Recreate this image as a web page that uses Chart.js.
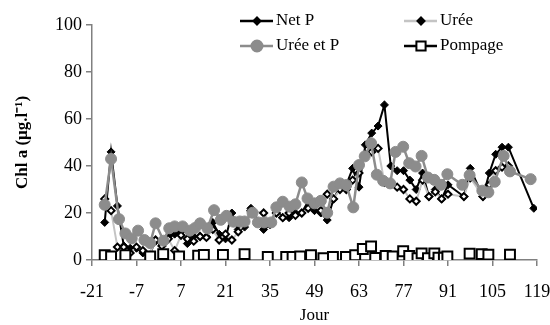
<!DOCTYPE html>
<html>
<head>
<meta charset="utf-8">
<script src="https://cdn.jsdelivr.net/npm/chart.js@4/dist/chart.umd.min.js"></script>
<style>
  html, body { margin: 0; padding: 0; background: #fff; }
  #wrap { width: 550px; height: 325px; position: relative; }
</style>
</head>
<body>
<div id="wrap"><canvas id="chart"></canvas></div>
<script>
// Sampling days and chlorophyll a values per treatment
const netPDays = [-17, -15, -13, -11, -9, -7, -5, -3, -1, 1, 3, 5, 7, 9, 11, 13, 15, 17, 19, 21,
    23, 25, 27, 29, 33, 35, 37, 39, 41, 43, 45, 47, 49, 51, 53, 55, 57, 59, 61, 63,
    65, 67, 69, 71, 73, 75, 77, 79, 81, 83, 85, 87, 89, 91, 96, 98, 102, 104, 106, 108, 110, 118];
const netPValues = [16, 46, 23, 6, 5, 5, 3, 2, 8, 7, 10, 11, 12, 7, 10, 10, 10, 16, 11, 9,
    20, 13, 14, 22, 13, 15, 21, 18, 18, 20, 20, 25, 21, 20, 17, 26, 31, 32, 39, 31,
    49, 54, 57, 66, 40, 38, 38, 34, 30, 37, 27, 30, 26, 32, 27, 39, 27, 37, 45, 48, 48, 22];

const ureeDays = [-17, -15, -13, -11, -9, -7, -5, -3, -1, 1, 3, 5, 7, 9, 11, 13, 15, 17, 19, 21,
    23, 25, 27, 29, 33, 35, 37, 39, 41, 43, 45, 47, 49, 51, 53, 55, 57, 59, 61, 63,
    65, 67, 69, 71, 73, 75, 77, 79, 81, 83, 85, 87, 89, 91, 96, 98, 102, 104, 106, 108, 110];
const ureeValues = [26, 21, 5.5, 5.5, 3, 5.5, 4, 2, 8.5, 6, 9, 4, 10.5, 9, 8, 10, 9.6, 13, 8.5, 11,
    8.5, 12, 16, 21, 20, 16, 20, 18, 20, 19, 20, 22, 23, 21, 28, 26, 30, 30, 34, 37,
    45, 46, 47.5, 33, 33, 31, 30, 26, 25, 34, 27, 29, 26, 28, 27, 35, 27, 32, 38, 39.5, 40];

const ureePDays = [-17, -15, -12.5, -10.5, -8.5, -6.5, -4.5, -2.7, -1, 1.5, 3.3, 5, 7.5, 9.8, 11.4, 13, 15.3, 17.4, 19.5, 21.3,
    23.5, 25.5, 27, 29.5, 31.2, 33.2, 35.4, 37, 39, 41.2, 43, 45, 46.8, 49, 51, 53, 55, 57, 59, 61.2,
    63, 64.8, 66.8, 68.6, 70.6, 72.8, 74.5, 76.9, 78.8, 80.8, 82.7, 84.7, 86.7, 88.8, 90.8, 95.5, 97.8, 101.8, 103.7, 105.7,
    108.5, 110.5, 117];
const ureePValues = [23.5, 43, 17.4, 11.3, 9.2, 12.5, 8.5, 7.2, 15.6, 8.2, 13.5, 14.3, 14.3, 12.5, 13.6, 15.6, 13.5, 21.2, 17.1, 18.8,
    16.3, 16.4, 16.4, 20.1, 16, 16, 16, 22.4, 24.8, 22.7, 23.7, 33, 26.2, 24.1, 25.2, 20.1, 31.2, 32.6, 31.9, 22.4,
    40.4, 44.1, 49.7, 36.3, 33.7, 32.6, 46, 48.2, 41.2, 39.8, 44.3, 35.1, 34.1, 32, 36.5, 32, 36.1, 29.5, 28.8, 33.3,
    44.3, 37.7, 34.4];

const pompageDays = [-17, -15, -10.5, -2.7, 1.4, 6.4, 12.4, 14.2, 20.2, 27, 34.3, 40.1, 42.1, 44.5, 47.9, 51.8, 54.8, 58.9, 61.8,
    64.2, 66.8, 68.1, 71.4, 73.6, 76.9, 78.8, 81.4, 82.7, 84.7, 86.7, 88, 89.7, 90.8, 97.8, 101.6, 103.7, 110.5];
const pompageValues = [2, 1.5, 2, 1.5, 2.5, 1.5, 1.8, 2.2, 2.2, 2.5, 1.3, 1.3, 1.3, 1.5, 2, 0.8, 1.3, 1.3, 2,
    4.7, 5.8, 0.9, 1.7, 1.5, 3.7, 1.7, 0.8, 2.8, 0.8, 2.8, 1, 1, 1.5, 2.7, 2.5, 2.3, 2.3];

const xTicks = [-21, -7, 7, 21, 35, 49, 63, 77, 91, 105, 119];
const yTicks = [0, 20, 40, 60, 80, 100];

const serif = '"Liberation Serif", "Times New Roman", serif';
const axisGray = '#808080';

function toPoints(days, values) {
    return days.map((d, i) => ({ x: d, y: values[i] }));
}

// Legend drawn on the canvas: a short line with its marker, then the label
const legendItems = [
    { text: 'Net P', x: 240, y: 21, line: '#000', style: 'rectRot', r: 3.5, fill: '#000', stroke: '#000' },
    { text: 'Urée', x: 404, y: 21, line: '#c4c4c4', style: 'rectRot', r: 3.5, fill: '#000', stroke: '#000' },
    { text: 'Urée et P', x: 240, y: 46, line: '#8c8c8c', style: 'circle', r: 5.5, fill: '#8c8c8c', stroke: '#8c8c8c' },
    { text: 'Pompage', x: 404, y: 46, line: '#000', style: 'rect', r: 6.5, fill: '#fff', stroke: '#000' }
];

const legendPlugin = {
    id: 'lineLegend',
    afterDatasetsDraw(chart) {
        const ctx = chart.ctx;
        ctx.save();
        legendItems.forEach(item => {
            ctx.strokeStyle = item.line;
            ctx.lineWidth = 2.5;
            ctx.beginPath();
            ctx.moveTo(item.x, item.y);
            ctx.lineTo(item.x + 33, item.y);
            ctx.stroke();
            ctx.fillStyle = item.fill;
            ctx.strokeStyle = item.stroke;
            ctx.lineWidth = 2;
            Chart.helpers.drawPoint(ctx, { pointStyle: item.style, radius: item.r, borderWidth: 2, rotation: 0 },
                item.x + 17, item.y);
            ctx.fillStyle = '#000';
            ctx.font = '17px ' + serif;
            ctx.textBaseline = 'middle';
            ctx.textAlign = 'left';
            ctx.fillText(item.text, item.x + 36, item.y);
        });
        ctx.restore();
    }
};

const ctx = document.getElementById('chart').getContext('2d');
new Chart(ctx, {
    type: 'line',
    data: {
        datasets: [
            {
                label: 'Net P',
                data: toPoints(netPDays, netPValues),
                borderColor: '#000',
                borderWidth: 2,
                pointStyle: 'rectRot',
                pointRadius: 4,
                pointBackgroundColor: '#000',
                pointBorderColor: '#000',
                pointBorderWidth: 1,
                order: 3
            },
            {
                label: 'Urée',
                data: toPoints(ureeDays, ureeValues),
                borderColor: '#c4c4c4',
                borderWidth: 2,
                pointStyle: 'rectRot',
                pointRadius: 3.5,
                pointBackgroundColor: '#fff',
                pointBorderColor: '#000',
                pointBorderWidth: 2,
                order: 2
            },
            {
                label: 'Urée et P',
                data: toPoints(ureePDays, ureePValues),
                borderColor: '#8c8c8c',
                borderWidth: 2.5,
                pointStyle: 'circle',
                pointRadius: 5.5,
                pointBackgroundColor: '#8c8c8c',
                pointBorderColor: '#8c8c8c',
                pointBorderWidth: 1,
                order: 1
            },
            {
                label: 'Pompage',
                data: toPoints(pompageDays, pompageValues),
                showLine: false,
                borderColor: '#000',
                pointStyle: 'rect',
                pointRadius: 7,
                pointBackgroundColor: '#fff',
                pointBorderColor: '#000',
                pointBorderWidth: 2,
                order: 0
            }
        ]
    },
    options: {
        responsive: true,
        maintainAspectRatio: false,
        animation: false,
        layout: { padding: { top: 25, right: 13, left: 0, bottom: 0 } },
        plugins: {
            legend: { display: false },
            tooltip: { enabled: false }
        },
        scales: {
            x: {
                type: 'linear',
                min: -21,
                max: 119,
                afterBuildTicks: scale => { scale.ticks = xTicks.map(v => ({ value: v })); },
                afterFit: scale => {
                    scale.height = 65;
                    scale.paddingLeft = 0;
                    scale.paddingRight = 0;
                },
                border: { color: axisGray, width: 1.5 },
                grid: { drawOnChartArea: false, drawTicks: true, tickLength: 6, color: axisGray, lineWidth: 1.5 },
                ticks: { color: '#000', padding: 15, maxRotation: 0, font: { family: serif, size: 18 } },
                title: {
                    display: true,
                    text: 'Jour',
                    color: '#000',
                    padding: 0,
                    font: { family: serif, size: 17, lineHeight: 1.1 }
                }
            },
            y: {
                min: 0,
                max: 100,
                afterBuildTicks: scale => { scale.ticks = yTicks.map(v => ({ value: v })); },
                afterFit: scale => { scale.width = 92; },
                border: { color: axisGray, width: 1.5 },
                grid: { drawOnChartArea: false, drawTicks: true, tickLength: 6, color: axisGray, lineWidth: 1.5 },
                ticks: { color: '#000', padding: 4, font: { family: serif, size: 18 } },
                title: {
                    display: true,
                    text: 'Chl a (µg.l⁻¹)',
                    color: '#000',
                    padding: { top: 12, bottom: 0 },
                    font: { family: serif, size: 17, weight: 'bold', lineHeight: 1.2 }
                }
            }
        }
    },
    plugins: [legendPlugin]
});
</script>
</body>
</html>
